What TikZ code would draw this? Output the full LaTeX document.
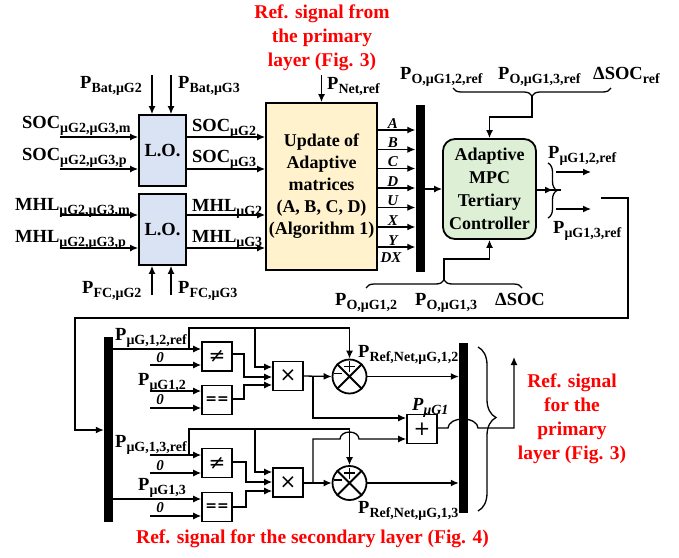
\documentclass[tikz,border=0pt]{standalone}
\usepackage{fontspec}
\setmainfont{Liberation Serif}
\newfontfamily\symfont{DejaVu Sans}
\usetikzlibrary{arrows.meta,positioning,decorations.pathreplacing}
\definecolor{loBlue}{HTML}{DAE3F3}
\definecolor{updCream}{HTML}{FFF2CC}
\definecolor{mpcGreen}{HTML}{DDF0D5}
\newcommand{\sig}[2]{#1\raisebox{-4pt}{\fontsize{14}{14}\selectfont #2}}

\tikzset{
  wire/.style={line width=1.3pt},
  sig/.style={wire,-{Latex[length=8pt,width=7pt]}},
  lbl/.style={anchor=base west,inner sep=0pt},
  matlbl/.style={inner sep=1pt,font=\fontsize{15}{15}\selectfont\bfseries\itshape},
  redtxt/.style={text=red,align=center,font=\fontsize{19.5}{24}\selectfont\bfseries},
  lobox/.style={draw,line width=1.8pt,fill=loBlue,minimum width=47pt,minimum height=71pt,inner sep=0pt},
  updbox/.style={draw,line width=1.8pt,fill=updCream,minimum width=111pt,minimum height=167pt,
                 align=center,inner sep=0pt,font=\fontsize{18}{22}\selectfont\bfseries},
  mpcbox/.style={draw,line width=1.8pt,fill=mpcGreen,rounded corners=12pt,minimum width=93pt,
                 minimum height=100pt,align=center,inner sep=0pt,font=\fontsize{18}{23}\selectfont\bfseries},
  bus/.style={fill=black,inner sep=0pt,minimum width=9pt},
  opbox/.style={draw,line width=1.6pt,minimum width=30pt,minimum height=29pt,inner sep=0pt,
                font=\fontsize{20}{20}\symfont},
  sumnode/.style={circle,draw,line width=1.8pt,minimum size=34pt,inner sep=0pt},
}

\begin{document}
\begin{tikzpicture}[x=1pt,y=-1pt,font=\fontsize{18.5}{22}\selectfont\bfseries]
\useasboundingbox (0,0) rectangle (679,557);

% ---------- tertiary layer ----------
\node[redtxt] (primref) at (322,37.5) {Ref. signal from\\the primary\\layer (Fig. 3)};
\node[updbox] (upd) at (321.5,186.5) {Update of\\Adaptive\\matrices\\(A, B, C, D)\\(Algorithm 1)};
\node[lbl] (pnet) at (327,89) {\sig{P}{Net,ref}};
\draw[sig] ([yshift=27pt]upd.north) -- (upd.north);

% local observers
\node[lobox] (lo1) at (162.5,150.5) {L.O.};
\node[lobox] (lo2) at (162.5,229.5) {L.O.};
\foreach \xx in {152,171} {
  \draw[sig] (\xx,75) -- (lo1.north -| \xx,0);
  \draw[sig] (\xx,295) -- (lo2.south -| \xx,0);
}
\foreach \yy in {137,169} {
  \draw[sig] (60,\yy) -- (lo1.west |- 0,\yy);
  \draw[sig] (lo1.east |- 0,\yy) -- (upd.west |- 0,\yy);
}
\foreach \yy in {215,248} {
  \draw[sig] (60,\yy) -- (lo2.west |- 0,\yy);
  \draw[sig] (lo2.east |- 0,\yy) -- (upd.west |- 0,\yy);
}
\node[lbl] (pbat2) at (80,88) {\sig{P}{Bat,μG2}};
\node[lbl] (pbat3) at (178,88) {\sig{P}{Bat,μG3}};
\node[lbl] (socm) at (22,128) {\sig{SOC}{μG2,μG3,m}};
\node[lbl] (socp) at (22,160) {\sig{SOC}{μG2,μG3,p}};
\node[lbl] (mhlm) at (15,210) {\sig{MHL}{μG2,μG3,m}};
\node[lbl] (mhlp) at (15,242) {\sig{MHL}{μG2,μG3,p}};
\node[lbl] (soc2) at (192,131) {\sig{SOC}{μG2}};
\node[lbl] (soc3) at (192,162) {\sig{SOC}{μG3}};
\node[lbl] (mhl2) at (192,211) {\sig{MHL}{μG2}};
\node[lbl] (mhl3) at (192,242) {\sig{MHL}{μG3}};
\node[lbl] (pfc2) at (82,293) {\sig{P}{FC,μG2}};
\node[lbl] (pfc3) at (178,293) {\sig{P}{FC,μG3}};

% matrices to the MPC
\node[bus,minimum height=167pt] (bus1) at (420,188.5) {};
\foreach \lab/\yy in {A/130,B/149.5,C/168.5,D/188,U/207.5,X/227,Y/247}
  \draw[sig] (upd.east |- 0,\yy) -- node[matlbl,above,pos=0.4] {\lab} (bus1.west |- 0,\yy);
\node[matlbl] (dxlbl) at (391,258) {DX};
\node[mpcbox] (mpc) at (489.5,189) {Adaptive\\MPC\\Tertiary\\Controller};
\draw[sig] (bus1.east |- mpc.west) -- (mpc.west);

% references and measurements
\node[lbl] (po2ref) at (400,79) {\sig{P}{O,μG1,2,ref}};
\node[lbl] (po3ref) at (498,79) {\sig{P}{O,μG1,3,ref}};
\node[lbl] (dsocref) at (593,79) {\sig{ΔSOC}{ref}};
\draw[wire,decorate,decoration={brace,amplitude=8pt,mirror}] (453,88) -- (611,88);
\coordinate (tbtip) at (532,96);
\draw[sig] (tbtip) |- ([yshift=21pt]mpc.north) -- (mpc.north);
\node[lbl] (po2) at (335,305) {\sig{P}{O,μG1,2}};
\node[lbl] (po3) at (415,305) {\sig{P}{O,μG1,3}};
\node[lbl] (dsoc) at (495,305) {ΔSOC};
\draw[wire,decorate,decoration={brace,amplitude=8pt}] (366,288) -- (522,288);
\coordinate (bbtip) at (444,280);
\draw[sig] (bbtip) |- ([yshift=-19pt]mpc.south) -- (mpc.south);

% MPC outputs
\draw[wire] (mpc.east |- 0,190) -- (561,190);
\draw[sig] (mpc.east |- 0,190) -- (553,190);
\draw[wire,decorate,decoration={brace,amplitude=9pt}] (548,163) -- (548,218);
\draw[sig] (556,172) -- (591,172);
\draw[sig] (556,209) -- (591,209);
\node[lbl] (pg2ref) at (548,158) {\sig{P}{μG1,2,ref}};
\node[lbl] (pg3ref) at (553,233) {\sig{P}{μG1,3,ref}};

% ---------- secondary reference ----------
\node[bus,minimum height=185pt] (bus2) at (108.5,429.5) {};
\node[bus,minimum height=170pt] (bus3) at (463.5,428) {};
\draw[sig] (601,198) -| (628,318) -| (75,430) -- (bus2.west |- 0,430);

\node[opbox] (ne1) at (217,356.5) {≠};
\node[opbox] (eq1) at (217,400) {\fontsize{14}{14}\selectfont\bfseries ==};
\node[opbox] (mul1) at (288,376) {×};
\node[sumnode] (sum1) at (349.5,376.5) {};
\node[opbox] (ne2) at (217,463) {≠};
\node[opbox] (eq2) at (217,507) {\fontsize{14}{14}\selectfont\bfseries ==};
\node[opbox] (mul2) at (288,482.5) {×};
\node[sumnode] (sum2) at (349.5,483) {};
\node[opbox] (add) at (422,429) {+};
\foreach \s in {sum1,sum2} {
  \draw[line width=1.8pt] (\s.north west) -- (\s.south east) (\s.north east) -- (\s.south west);
  \draw[line width=1.8pt] ([xshift=-5.5pt,yshift=10pt]\s.center) -- ([xshift=5.5pt,yshift=10pt]\s.center)
                          ([yshift=4.5pt]\s.center) -- ([yshift=15.5pt]\s.center)
                          ([xshift=-16pt,yshift=3pt]\s.center) -- ([xshift=-8pt,yshift=3pt]\s.center);
}

% upper branch
\draw[sig] (bus2.east |- 0,349) -- (ne1.west |- 0,349);
\draw[sig] (150,365) -- (ne1.west |- 0,365);
\draw[sig] (150,391) -- (eq1.west |- 0,391);
\draw[sig] (150,408) -- (eq1.west |- 0,408);
\draw[sig] (189,349) |- (sum1.north |- 0,328) -- (sum1.north);
\draw[sig] (255,328) |- (mul1.west |- 0,367);
\draw[sig] (ne1.east |- 0,354) -| (244,377) -- (mul1.west |- 0,377);
\draw[sig] (eq1.east |- 0,399) -| (244,385) -- (mul1.west |- 0,385);
\draw[sig] (mul1.east) -- (sum1.west);
\draw[sig] (313,376) |- (add.west |- 0,418);
\draw[sig] (sum1.east) -- (bus3.west |- sum1.east);

% lower branch
\draw[sig] (150,455) -- (ne2.west |- 0,455);
\draw[sig] (150,473) -- (ne2.west |- 0,473);
\draw[sig] (bus2.east |- 0,499) -- (eq2.west |- 0,499);
\draw[sig] (150,516) -- (eq2.west |- 0,516);
\draw[sig] (189,455) |- (sum2.north |- 0,429) -- (sum2.north);
\draw[sig] (255,429) |- (mul2.west |- 0,472);
\draw[sig] (ne2.east |- 0,462) -| (246,482) -- (mul2.west |- 0,482);
\draw[sig] (eq2.east |- 0,507) -| (246,491) -- (mul2.west |- 0,491);
\draw[sig] (mul2.east |- 0,483) -- (sum2.west);
\draw[sig] (313,483) -- (313,439) -- (340,439) arc[start angle=180,end angle=0,x radius=9.5pt,y radius=7pt]
           -- (add.west |- 0,439);
\draw[sig] (sum2.east) -- (bus3.west |- sum2.east);

% total and output to primary layer
\draw[sig] (add.east |- 0,428) -- (448,428) arc[start angle=180,end angle=0,x radius=15pt,y radius=9pt]
           -- (514,428) -- (514,357);
\draw[wire,decorate,decoration={brace,amplitude=18pt,aspect=0.43}] (478,347) -- (478,511);

\node[lbl] (pref12) at (115,340) {\sig{P}{μG,1,2,ref}};
\node[lbl] (pg12) at (138,385) {\sig{P}{μG1,2}};
\node[lbl] (pref13) at (115,447) {\sig{P}{μG,1,3,ref}};
\node[lbl] (pg13) at (138,490) {\sig{P}{μG1,3}};
\foreach \yy in {358,400,466,508}
  \node[matlbl] at (160,\yy) {0};
\node[lbl] (pnet12) at (358,357) {\sig{P}{Ref,Net,μG,1,2}};
\node[lbl] (pnet13) at (358,513) {\sig{P}{Ref,Net,μG,1,3}};
\node[lbl] (pg1) at (412,410) {\itshape\sig{P}{μG1}};

\node[redtxt] (primout) at (572,419) {Ref. signal\\for the\\primary\\layer (Fig. 3)};
\node[redtxt] (secref) at (312.5,539) {Ref. signal for the secondary layer (Fig. 4)};
\end{tikzpicture}
\end{document}
